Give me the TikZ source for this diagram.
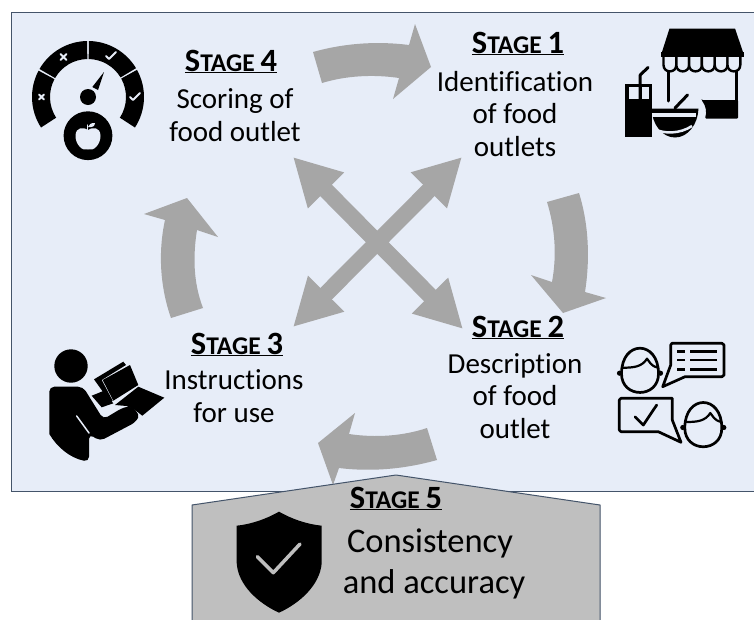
\documentclass[tikz,border=0pt]{standalone}
\usepackage{fontspec}
\setmainfont{Carlito}[Ligatures=NoCommon]
\usepackage{tikz}
\usetikzlibrary{arrows.meta}
\definecolor{panelblue}{HTML}{E7EDF8}
\definecolor{panelline}{HTML}{44546A}
\definecolor{arrowgray}{HTML}{A6A6A6}
\definecolor{roofgray}{HTML}{BFBFBF}
\newcommand{\stagehead}[1]{\textbf{\underline{\fontsize{32.5}{34}\selectfont S\fontsize{25.5}{34}\selectfont TAGE \fontsize{32.5}{34}\selectfont #1}}}
\tikzset{
	bodytext/.style={align=center, font=\fontsize{29}{32.5}\selectfont, inner sep=0pt},
	roofbodytext/.style={align=center, font=\fontsize{34.5}{41}\selectfont, inner sep=0pt},
	headtext/.style={inner sep=0pt, anchor=base},
	turnarrow/.style={fill=arrowgray, draw=none},
	crossarrow/.style={draw=arrowgray, line width=16.3pt, {Triangle[length=47pt,width=47.5pt]}-{Triangle[length=47pt,width=47.5pt]}},
	iconline/.style={draw=black, line width=2.7pt, line cap=round, line join=round},
	panelstroke/.style={draw=panelblue, line cap=round, line join=round},
	facehead/.pic={
		\draw[iconline, fill=panelblue] (-18.5,3) .. controls (-18.5,-31) and (18.5,-31) .. (18.5,3) .. controls (18.5,28) and (-18.5,28) .. (-18.5,3) -- cycle;
		\fill (-20.5,2.5) circle (2.6);
		\fill (20.5,2.5) circle (2.6);
		\draw[iconline, line width=2.2pt] (-17,-3) .. controls (-6,-3) and (2,-4) .. (7,-12) .. controls (10,-9) and (10,-5) .. (18,-3);
	}
}
\begin{document}
\begin{tikzpicture}[x=1pt, y=-1pt]
	\useasboundingbox (0,0) rectangle (754,619);
	\fill[white] (0,0) rectangle (754,619);
	\draw[panelline, fill=panelblue, line width=1pt] (11.5,12.5) rectangle (770,491);

	% stage arrows
	\fill[turnarrow] (313,52) .. controls (345,43) and (378,41) .. (409,45) -- (415,24) -- (431,67) -- (393,99) -- (399,78) .. controls (372,74) and (345,76) .. (322,83) -- cycle;
	\fill[turnarrow] (547,202) -- (579,193) .. controls (589,225) and (590,260) .. (585,292) -- (606,298) -- (563,313) -- (531,275) -- (552,282) .. controls (557,255) and (555,228) .. (547,202) -- cycle;
	\fill[turnarrow] (427,428) -- (437,460) .. controls (405,469) and (372,472) .. (339,468) -- (333,485) -- (318,443) -- (355,413) -- (349,434) .. controls (376,438) and (403,436) .. (427,428) -- cycle;
	\fill[turnarrow] (171,318) -- (203,308) .. controls (193,282) and (193,255) .. (197,230) -- (218,237) -- (187,198) -- (144,214) -- (165,220) .. controls (158,252) and (160,287) .. (171,318) -- cycle;

	\coordinate (crossnw) at (293,157);
	\coordinate (crossse) at (463,329);
	\coordinate (crossne) at (462,157);
	\coordinate (crosssw) at (293,327);
	\draw[crossarrow] (crossnw) -- (crossse);
	\draw[crossarrow] (crossne) -- (crosssw);

	% stage 5 roof
	\draw[panelline, fill=roofgray, line width=1pt] (192,625) -- (192,505) -- (396,475) -- (600,505) -- (600,625) -- cycle;

	\node[headtext] (stagefour) at (231,71) {\stagehead{4}};
	\node[bodytext] (scoring) at (235,115) {Scoring of\\food outlet};
	\node[headtext] (stageone) at (518,53) {\stagehead{1}};
	\node[bodytext] (identification) at (515,114) {Identification\\of food\\outlets};
	\node[headtext] (stagetwo) at (518,337) {\stagehead{2}};
	\node[bodytext] (description) at (515,396) {Description\\of food\\outlet};
	\node[headtext] (stagethree) at (237,354) {\stagehead{3}};
	\node[bodytext] (instructions) at (234,396) {Instructions\\for use};
	\node[headtext] (stagefive) at (396,508) {\stagehead{5}};
	\node[roofbodytext] (consistency) at (434,564) {\hspace*{-8pt}Consistency\\and accuracy};

	% gauge
	\begin{scope}[shift={(88,97)}, y=1pt]
		\foreach \a/\b in {-33/29, 31/89, 91/150, 152/213}
			\fill (\a:56) arc (\a:\b:56) -- (\b:38) arc (\b:\a:38) -- cycle;
		\fill (0,0) circle (8);
		\fill (16,25) -- (4.3,10) -- (10,7) -- cycle;
		\draw[panelstroke, line width=2pt] (-24.5,40) ++(-3,3) -- ++(6,-6) ++(-6,0) -- ++(6,6);
		\draw[panelstroke, line width=2pt] (-46.5,0) ++(-2.5,2.5) -- ++(5,-5) ++(-5,0) -- ++(5,5);
		\draw[panelstroke, line width=2pt] (18,41) -- ++(3,-3) -- ++(7,7);
		\draw[panelstroke, line width=2pt] (42,0) -- ++(3,-3) -- ++(7,7);
		\fill (0,-38.7) circle (24.4);
		\fill[panelblue] (0,-33) .. controls (-4,-30) and (-12.5,-29.5) .. (-12.5,-39) .. controls (-12.5,-47) and (-6,-54.5) .. (0,-52.5) .. controls (6,-54.5) and (12.5,-47) .. (12.5,-39) .. controls (12.5,-29.5) and (4,-30) .. (0,-33) -- cycle;
		\draw[panelstroke, line width=1.4pt] (-0.5,-33) -- (-0.5,-28);
		\fill[panelblue] (0,-30) .. controls (1,-27) and (3,-26) .. (7,-26) .. controls (7,-29) and (4,-31) .. (0,-30) -- cycle;
	\end{scope}

	% shop
	\fill (669.5,28.5) -- (735,28.5) -- (744,55) -- (661,55) -- cycle;
	\foreach \x in {0,...,5}
		\draw[line width=2.4pt, fill=panelblue] (663.5+12.8*\x,55) -- (663.5+12.8*\x,65) .. controls (663.5+12.8*\x,73.5) and (676.3+12.8*\x,73.5) .. (676.3+12.8*\x,65) -- (676.3+12.8*\x,55);
	\fill (661,52) rectangle (744,56.5);
	\draw[line width=3pt, line cap=round] (668.5,72) -- (668.5,101);
	\draw[line width=3pt] (736.5,71) -- (736.5,101);
	\fill[rounded corners=1pt] (701.5,100) -- (738,100) -- (738,118.5) -- (705,118.5) .. controls (707,112) and (706,106) .. cycle;
	\draw[line width=3pt, line cap=round] (675,108) -- (687.5,95);
	\fill (625,83.5) -- (651.5,83.5) -- (651.5,136.5) -- (625,136.5) -- cycle;
	\fill[panelblue] (629,87) rectangle (638.5,98.5);
	\fill[panelblue] (642,87) rectangle (648.5,98.5);
	\draw[line width=3pt, line cap=round, line join=round] (640.2,99) -- (640.2,75) -- (648,67.5);
	\fill (651.5,108.5) -- (698.5,108.5) .. controls (698,124) and (688,137.5) .. (675,137.5) .. controls (662,137.5) and (652,124) .. (651.5,108.5) -- cycle;
	\fill[panelblue] (652,112.8) rectangle (695.5,116.5);
	\draw[panelstroke, line width=2.5pt, line cap=butt] (654,129) .. controls (664,134) and (680,134) .. (692,126);

	% people
	\pic at (640,370.7) {facehead};
	\pic at (703.3,425) {facehead};
	\draw[iconline] (685,376.7) -- (662.7,386.7) -- (670.7,365) -- (670.7,345) -- (672,343.3) -- (722,343.3) -- (724,345) -- (724,375) -- (722,376.7) -- cycle;
	\foreach \y in {351.7,360,369.3} {
		\draw[line width=2.7pt] (677,\y) -- (685,\y);
		\draw[line width=2.7pt] (690,\y) -- (717,\y);
	}
	\draw[iconline] (621,398.3) -- (672.3,398.3) -- (672.3,420) -- (681,442.3) -- (658.3,431.7) -- (621,431.7) -- (619.3,430) -- (619.3,400) -- cycle;
	\draw[iconline] (635,416.7) -- (643.3,425) -- (656.7,405);

	% reader
	\fill (71,366) circle (16.7);
	\fill[rounded corners=5pt] (49.3,434) -- (49.3,386.7) -- (83,386.7) -- (103.3,419.3) -- (123.3,407.3) .. controls (133,406) and (140,414) .. (136,422) -- (100,441) -- (89,434) -- (89,461.7) [sharp corners] .. controls (70,458) and (57,447) .. (49.3,434) -- cycle;
	\draw[panelstroke, line width=1.5pt] (76.7,416) -- (89,433);
	\fill (91.7,395.7) -- (103.3,391) -- (113.3,403.3) -- (101.7,407.3) -- cycle;
	\fill (138.3,386.7) -- (164.3,397.7) -- (142.3,415.7) -- (135,410) -- (126.7,406) -- (115,405) -- cycle;
	\fill (94,379.3) -- (123.3,361.7) -- (126,365) -- (101.7,380) -- (112.7,400.7) -- (110.7,402.7) -- cycle;
	\fill (102.7,380) -- (130,365) -- (138.3,385) -- (113.3,400.7) -- cycle;

	% shield
	\fill (279,511.7) .. controls (292,519) and (306,524) .. (321.7,525.7) -- (321.7,563) .. controls (320,585) and (300,603) .. (279,612.7) .. controls (258,603) and (238,585) .. (236.7,563) -- (236.7,525.7) .. controls (252,524) and (266,519) .. (279,511.7) -- cycle;
	\draw[roofgray, line width=3.5pt, line cap=round, line join=round] (257.3,556.7) -- (273.3,572.7) -- (300,544);
\end{tikzpicture}
\end{document}
